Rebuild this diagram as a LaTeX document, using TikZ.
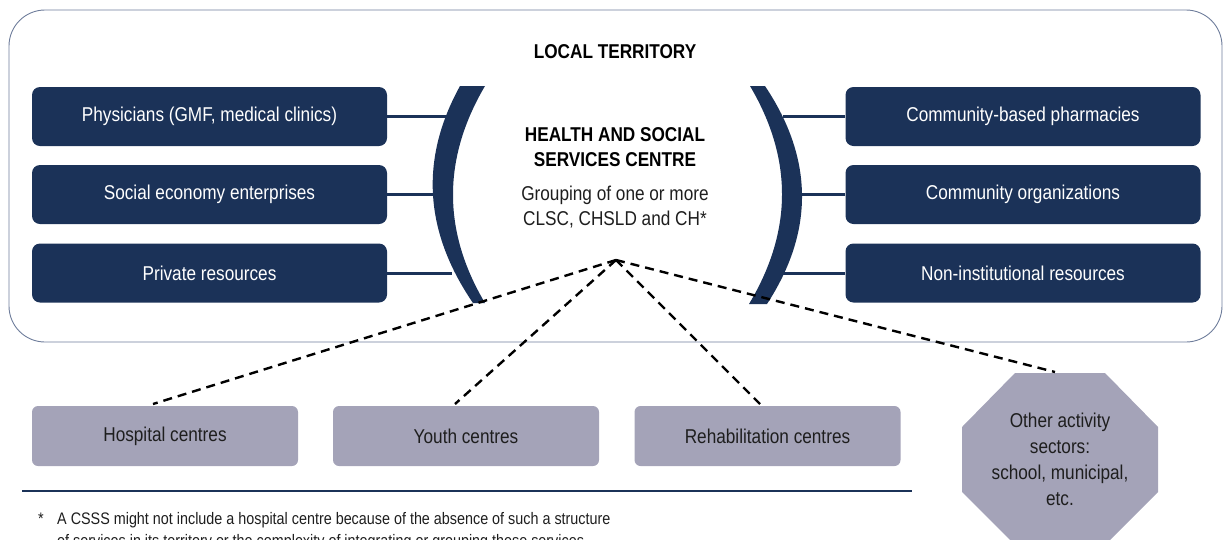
\documentclass[tikz,border=0pt]{standalone}
\usepackage{fontspec}
\setmainfont{Liberation Sans}[FakeStretch=0.86]
\definecolor{navy}{RGB}{27,50,88}
\definecolor{lilac}{RGB}{164,163,184}
\definecolor{frame}{RGB}{110,125,155}
\definecolor{ink}{RGB}{30,30,30}
\begin{document}
\begin{tikzpicture}[x=1pt,y=-1pt,
  darkbox/.style={draw=none,fill=navy,rounded corners=8pt,minimum width=355pt,minimum height=59pt,text=white,font=\fontsize{20}{24}\selectfont,inner sep=0pt},
  lightbox/.style={draw=none,fill=lilac,rounded corners=6pt,minimum width=266pt,minimum height=60pt,text=ink,font=\fontsize{20}{24}\selectfont,inner sep=0pt},
  link/.style={draw=navy,line width=3pt},
  dashlink/.style={draw=black,line width=2.4pt,dash pattern=on 9pt off 6pt},
  bracket/.style={fill=navy,draw=none},
  fnote/.style={anchor=base west,font=\fontsize{16.7}{22}\selectfont,text=ink,inner sep=0pt}]
\useasboundingbox (0,0) rectangle (1224,539);
\clip (0,0) rectangle (1224,539);
% outer territory frame
\draw[frame,line width=0.9pt,rounded corners=36pt] (9,10) rectangle (1222,342);
\node[font=\bfseries\fontsize{20}{24}\selectfont,text=black] (title) at (615,52) {LOCAL TERRITORY};
% left boxes
\node[darkbox] (l1) at (209.5,116.5) {Physicians (GMF, medical clinics)};
\node[darkbox] (l2) at (209.5,194.5) {Social economy enterprises};
\node[darkbox] (l3) at (209.5,273) {Private resources};
% right boxes
\node[darkbox] (r1) at (1023,116.5) {Community-based pharmacies};
\node[darkbox] (r2) at (1023,194.5) {Community organizations};
\node[darkbox] (r3) at (1023,273) {Non-institutional resources};
% brackets
\fill[bracket] (460,86) .. controls (419.67,159) and (424,231.33) .. (473,303) -- (485,303) .. controls (442.33,231.33) and (442.33,158.33) .. (485,86) -- cycle;
\fill[bracket] (765,86) .. controls (813.67,158.67) and (814.33,231.33) .. (767,304) -- (749,304) .. controls (792.67,231.33) and (793,158.67) .. (750,86) -- cycle;
\coordinate (bl1) at (452,116.5);
\coordinate (bl2) at (438,194.5);
\coordinate (bl3) at (452,273);
\coordinate (br1) at (783,116.5);
\coordinate (br2) at (798,194.5);
\coordinate (br3) at (783,273);
\draw[link] (l1.east) -- (bl1);
\draw[link] (l2.east) -- (bl2);
\draw[link] (l3.east) -- (bl3);
\draw[link] (r1.west) -- (br1);
\draw[link] (r2.west) -- (br2);
\draw[link] (r3.west) -- (br3);
% centre text
\node[font=\bfseries\fontsize{20}{25}\selectfont,align=center,text=black] (csss) at (615,147.5) {HEALTH AND SOCIAL\\SERVICES CENTRE};
\node[font=\fontsize{20}{25}\selectfont,align=center,text=ink] (grp) at (615,207.5) {Grouping of one or more\\CLSC, CHSLD and CH*};
\coordinate (hub) at (616,260);
% bottom boxes
\node[lightbox] (hc) at (165,436) {Hospital centres};
\node[lightbox] (yc) at (466,436) {Youth centres};
\node[lightbox] (rc) at (767.5,436) {Rehabilitation centres};
\fill[lilac] (1015,373) -- (1105,373) -- (1158,427) -- (1158,492) -- (1105,545) -- (1015,545) -- (962,492) -- (962,427) -- cycle;
\node[font=\fontsize{20}{26}\selectfont,align=center,text=ink] (oth) at (1060,459) {Other activity\\sectors:\\school, municipal,\\etc.};
\coordinate (othtop) at (1055,372);
% dashed links
\draw[dashlink] (hub) -- (153,404);
\draw[dashlink] (hub) -- (455,404);
\draw[dashlink] (hub) -- (760,404);
\draw[dashlink] (hub) -- (othtop);
% footnote
\draw[navy,line width=1.2pt] (22,491) -- (912,491);
\node[fnote] (star) at (38,524) {*};
\node[fnote] (fn1) at (57,524) {A CSSS might not include a hospital centre because of the absence of such a structure};
\node[fnote] (fn2) at (57,546) {of services in its territory or the complexity of integrating or grouping these services.};
\end{tikzpicture}
\end{document}
